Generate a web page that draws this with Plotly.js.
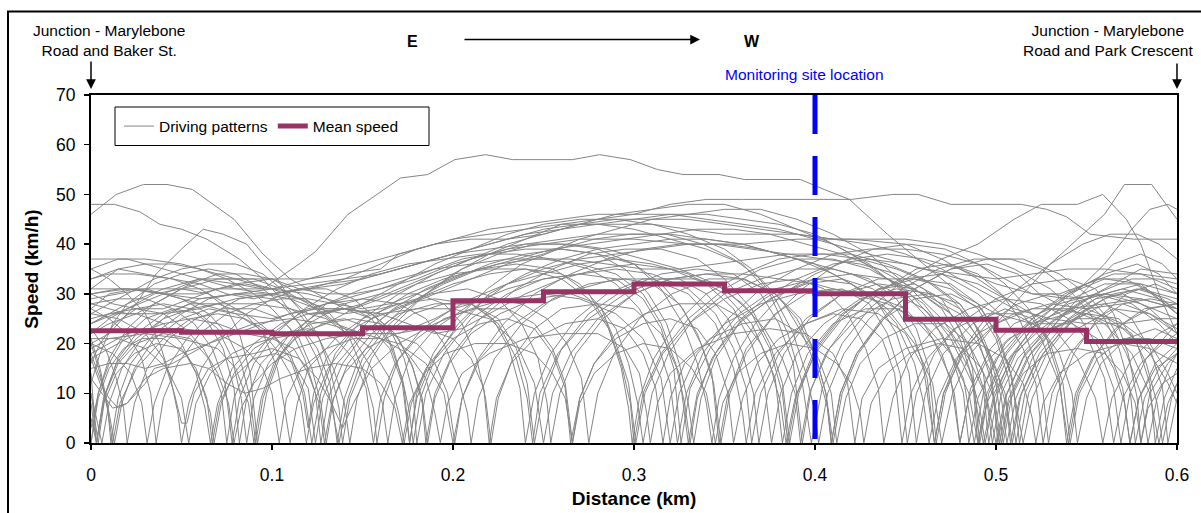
<!DOCTYPE html>
<html>
<head>
<meta charset="utf-8">
<script src="https://cdn.plot.ly/plotly-3.0.1.min.js"></script>
<style>
  html, body { margin: 0; padding: 0; background: #ffffff; }
  #chart { width: 1201px; height: 513px; }
</style>
</head>
<body>
<div id="chart"></div>
<script>
// Speed profiles along Marylebone Road, one run per array: pairs of [distance (km), speed (km/h)]
const run01 = [0,24, 0.02,28, 0.04,31, 0.06,33, 0.08,32, 0.095,31, 0.103,33, 0.115,36, 0.124,38.5, 0.142,46, 0.156,49.5, 0.171,53.3, 0.186,54, 0.201,57, 0.218,58, 0.233,57, 0.266,57, 0.281,58, 0.298,57, 0.313,55, 0.327,54, 0.347,54, 0.361,53, 0.392,53, 0.405,51, 0.419,49, 0.44,42, 0.46,36, 0.48,30, 0.5,26, 0.52,24, 0.54,26, 0.56,30, 0.58,32, 0.6,30];
const run02 = [0,46, 0.014,50, 0.029,52, 0.042,52, 0.056,51, 0.079,45, 0.095,38, 0.11,33, 0.125,30, 0.14,27, 0.155,25, 0.17,27, 0.19,30, 0.21,33, 0.23,36, 0.25,38, 0.27,41, 0.29,43, 0.31,45, 0.33,46, 0.35,47, 0.37,47, 0.39,45, 0.41,42, 0.43,38, 0.45,32, 0.47,25, 0.485,17, 0.495,9, 0.5,0, 0.505,9, 0.515,17, 0.53,24, 0.55,29, 0.57,31, 0.59,29, 0.6,27];
const run03 = [0,48, 0.013,48, 0.027,46.5, 0.038,44, 0.05,43, 0.064,41, 0.073,39, 0.082,37, 0.095,33, 0.105,29, 0.115,24, 0.125,17, 0.132,9, 0.137,0, 0.142,9, 0.15,17, 0.165,24, 0.185,30, 0.2,34, 0.22,38, 0.24,41, 0.26,44, 0.28,45, 0.3,46, 0.32,48, 0.34,49, 0.36,49, 0.38,49, 0.4,49, 0.42,49, 0.443,50, 0.457,50, 0.475,48, 0.514,48, 0.528,47, 0.539,45.5, 0.552,42, 0.576,41, 0.6,41];
const run04 = [0,20, 0.01,22, 0.025,28, 0.036,34, 0.05,39, 0.062,43, 0.073,42, 0.086,40, 0.095,36, 0.103,33, 0.11,29, 0.12,26, 0.13,26, 0.15,28, 0.17,31, 0.19,34, 0.21,37, 0.23,40, 0.25,42, 0.27,44, 0.29,46, 0.31,47, 0.33,48, 0.35,48, 0.37,46, 0.39,43, 0.41,40, 0.43,36, 0.45,30, 0.47,22, 0.482,13, 0.488,0, 0.494,12, 0.505,20, 0.52,25, 0.54,30, 0.56,33, 0.58,32, 0.6,26];
const run05 = [0,30, 0.02,31, 0.04,30, 0.06,28, 0.08,26, 0.1,25, 0.12,27, 0.14,29, 0.16,31, 0.18,33, 0.2,36, 0.22,38, 0.24,40, 0.26,41, 0.28,42, 0.3,42, 0.32,42, 0.34,41, 0.36,40, 0.38,38, 0.4,36, 0.42,32, 0.44,27, 0.455,20, 0.465,12, 0.47,0, 0.476,10, 0.486,18, 0.5,24, 0.515,30, 0.53,36, 0.545,41, 0.56,46, 0.571,52, 0.586,52, 0.6,45];
const run06 = [0,35, 0.015,37, 0.03,37, 0.05,36, 0.07,34, 0.09,32, 0.1,31, 0.12,33, 0.14,35, 0.16,37, 0.18,39, 0.2,41, 0.22,42, 0.24,43, 0.26,44, 0.28,44, 0.3,43, 0.32,41, 0.34,39, 0.36,36, 0.375,30, 0.385,22, 0.393,12, 0.398,0, 0.404,11, 0.415,20, 0.43,27, 0.45,33, 0.47,37, 0.49,40, 0.51,45, 0.525,48, 0.545,48, 0.559,50, 0.572,45, 0.58,40, 0.59,30, 0.6,22];
const run07 = [0,31, 0.015,35, 0.03,34, 0.045,33, 0.06,31, 0.075,28, 0.09,25, 0.1,22, 0.11,18, 0.118,10, 0.122,0, 0.127,10, 0.135,18, 0.15,25, 0.17,30, 0.19,34, 0.21,37, 0.23,39, 0.25,40, 0.27,41, 0.3,41, 0.33,40, 0.36,40, 0.39,41, 0.42,41, 0.45,40, 0.47,37, 0.49,33, 0.51,28, 0.525,21, 0.535,12, 0.54,0, 0.545,10, 0.555,18, 0.57,24, 0.585,27, 0.6,28];
const run08 = [0,27, 0.01,30, 0.025,31, 0.04,30, 0.06,29, 0.08,30, 0.1,31, 0.12,32, 0.14,33, 0.16,34, 0.18,36, 0.2,38, 0.22,40, 0.24,42, 0.26,43, 0.28,44, 0.3,45, 0.32,46, 0.34,46, 0.36,45, 0.38,44, 0.4,42, 0.42,38, 0.44,33, 0.46,28, 0.475,21, 0.487,12, 0.493,0, 0.499,10, 0.51,18, 0.525,23, 0.545,28, 0.565,32, 0.58,35, 0.6,34];
const run09 = [0,24, 0.02,27, 0.04,30, 0.06,33, 0.08,33, 0.1,33, 0.115,30, 0.125,27, 0.14,23, 0.155,19, 0.165,13, 0.17,6, 0.173,0, 0.177,8, 0.185,15, 0.2,22, 0.215,28, 0.23,32, 0.25,35, 0.27,37, 0.29,38, 0.31,39, 0.33,40, 0.35,40, 0.37,39, 0.39,37, 0.41,34, 0.43,30, 0.445,24, 0.455,16, 0.46,8, 0.463,0, 0.468,9, 0.478,17, 0.49,22, 0.51,26, 0.53,28, 0.55,27, 0.57,24, 0.585,20, 0.595,14, 0.6,10];
const run10 = [0,0, 0.004,10, 0.01,17, 0.02,23, 0.035,28, 0.05,31, 0.07,33, 0.09,33, 0.105,31, 0.12,28, 0.135,24, 0.15,22, 0.17,22, 0.19,25, 0.21,29, 0.23,32, 0.25,34, 0.27,36, 0.29,37, 0.31,36, 0.33,34, 0.35,30, 0.365,24, 0.375,16, 0.381,8, 0.384,0, 0.389,9, 0.4,18, 0.415,25, 0.43,30, 0.45,33, 0.47,34, 0.49,32, 0.51,28, 0.53,24, 0.545,17, 0.555,9, 0.559,0, 0.564,9, 0.575,17, 0.59,22, 0.6,24];
const run11 = [0,20, 0.005,14, 0.009,7, 0.012,0, 0.016,8, 0.025,15, 0.04,21, 0.055,25, 0.07,26, 0.085,25, 0.1,22, 0.11,17, 0.117,10, 0.12,3, 0.123,10, 0.13,17, 0.145,23, 0.16,26, 0.18,27, 0.2,27, 0.22,25, 0.235,20, 0.245,12, 0.25,0, 0.255,10, 0.265,18, 0.28,25, 0.3,30, 0.32,33, 0.34,34, 0.36,34, 0.38,33, 0.4,32, 0.42,30, 0.44,28, 0.46,24, 0.475,18, 0.485,10, 0.49,0, 0.495,8, 0.505,16, 0.52,23, 0.54,28, 0.56,30, 0.58,28, 0.6,25];
const run12 = [0,26, 0.015,25, 0.03,22, 0.04,17, 0.046,10, 0.05,4, 0.053,4, 0.057,10, 0.065,15, 0.075,17, 0.09,18, 0.1,19, 0.115,17, 0.125,13, 0.133,8, 0.139,3, 0.145,8, 0.155,15, 0.17,20, 0.19,24, 0.21,27, 0.23,29, 0.25,30, 0.27,29, 0.29,26, 0.305,21, 0.315,13, 0.32,0, 0.325,10, 0.335,18, 0.35,24, 0.37,28, 0.39,30, 0.41,31, 0.43,30, 0.45,27, 0.465,21, 0.475,13, 0.48,0, 0.486,11, 0.497,19, 0.51,24, 0.53,27, 0.55,26, 0.57,23, 0.585,18, 0.595,12, 0.6,8];
const run13 = [0,17, 0.005,12, 0.01,9, 0.015,7, 0.02,8, 0.03,12, 0.035,15, 0.045,16, 0.06,19, 0.075,22, 0.09,24, 0.11,25, 0.13,24, 0.15,22, 0.17,20, 0.185,16, 0.195,10, 0.2,0, 0.205,9, 0.215,17, 0.23,23, 0.25,28, 0.27,31, 0.29,33, 0.31,33, 0.33,30, 0.345,24, 0.355,15, 0.36,6, 0.362,0, 0.367,10, 0.378,18, 0.395,24, 0.415,27, 0.435,26, 0.45,22, 0.46,15, 0.466,0, 0.471,10, 0.482,18, 0.5,24, 0.52,27, 0.54,27, 0.56,24, 0.575,18, 0.585,10, 0.59,0, 0.595,8, 0.6,12];
const run14 = [0,10, 0.004,0, 0.008,10, 0.015,17, 0.025,22, 0.04,26, 0.055,28, 0.07,28, 0.085,26, 0.095,22, 0.103,15, 0.107,7, 0.11,0, 0.114,8, 0.12,15, 0.135,21, 0.15,25, 0.17,28, 0.19,29, 0.21,28, 0.225,24, 0.235,17, 0.241,9, 0.244,0, 0.248,10, 0.258,18, 0.275,25, 0.295,30, 0.315,33, 0.335,33, 0.35,31, 0.365,26, 0.375,19, 0.382,10, 0.385,0, 0.39,10, 0.4,19, 0.415,26, 0.435,31, 0.455,33, 0.475,32, 0.49,28, 0.5,22, 0.508,14, 0.512,6, 0.515,0, 0.52,9, 0.53,17, 0.545,23, 0.565,27, 0.585,26, 0.6,22];
const run15 = [0,22, 0.01,25, 0.02,27, 0.035,30, 0.05,31, 0.065,30, 0.075,27, 0.082,22, 0.088,14, 0.092,0, 0.097,10, 0.105,18, 0.12,24, 0.14,28, 0.16,30, 0.18,30, 0.195,28, 0.205,24, 0.213,17, 0.218,9, 0.221,0, 0.225,9, 0.233,17, 0.245,23, 0.26,27, 0.28,28, 0.3,27, 0.315,22, 0.325,14, 0.33,0, 0.335,10, 0.345,18, 0.36,25, 0.38,30, 0.4,33, 0.42,34, 0.44,33, 0.46,30, 0.48,26, 0.495,19, 0.505,10, 0.509,0, 0.514,10, 0.524,18, 0.54,25, 0.555,29, 0.57,30, 0.585,27, 0.6,22];
const run16 = [0,5, 0.003,0, 0.007,9, 0.015,16, 0.025,20, 0.04,22, 0.055,21, 0.065,17, 0.072,10, 0.075,0, 0.079,9, 0.087,16, 0.1,22, 0.115,26, 0.13,28, 0.15,29, 0.17,28, 0.185,25, 0.195,20, 0.203,13, 0.208,6, 0.21,0, 0.214,9, 0.223,17, 0.238,24, 0.255,29, 0.275,32, 0.295,33, 0.31,32, 0.325,28, 0.335,22, 0.343,14, 0.347,0, 0.352,10, 0.362,19, 0.378,26, 0.395,30, 0.415,31, 0.43,28, 0.44,22, 0.447,14, 0.451,0, 0.456,10, 0.466,18, 0.48,24, 0.5,29, 0.52,32, 0.54,33, 0.555,31, 0.565,26, 0.573,18, 0.578,9, 0.58,0, 0.585,10, 0.595,16, 0.6,18];
const run17 = [0,14, 0.003,0, 0.007,9, 0.014,16, 0.025,21, 0.04,25, 0.055,27, 0.07,28, 0.09,28, 0.11,27, 0.13,25, 0.145,21, 0.155,15, 0.161,8, 0.164,0, 0.168,9, 0.176,17, 0.19,23, 0.21,28, 0.23,31, 0.25,33, 0.27,34, 0.29,35, 0.31,34, 0.33,31, 0.345,26, 0.355,19, 0.362,11, 0.365,0, 0.37,10, 0.38,18, 0.395,25, 0.415,30, 0.435,33, 0.455,33, 0.475,31, 0.49,27, 0.5,21, 0.507,13, 0.511,0, 0.516,10, 0.526,18, 0.54,24, 0.56,28, 0.58,29, 0.6,27];
const run18 = [0,30, 0.015,31, 0.03,31, 0.05,29, 0.065,26, 0.075,22, 0.083,16, 0.088,9, 0.091,0, 0.095,9, 0.103,17, 0.115,23, 0.13,28, 0.15,31, 0.17,33, 0.19,35, 0.21,36, 0.23,37, 0.25,37, 0.27,36, 0.29,34, 0.305,30, 0.315,24, 0.323,16, 0.328,8, 0.331,0, 0.335,9, 0.343,17, 0.356,24, 0.372,29, 0.39,33, 0.41,36, 0.43,37, 0.45,36, 0.47,34, 0.49,30, 0.505,25, 0.515,19, 0.522,12, 0.526,0, 0.531,10, 0.541,18, 0.555,24, 0.57,28, 0.585,29, 0.6,28];
const run19 = [0,18, 0.01,20, 0.02,22, 0.03,23, 0.05,23, 0.07,22, 0.085,19, 0.095,15, 0.1,10, 0.104,0, 0.108,9, 0.116,15, 0.13,19, 0.145,21, 0.16,21, 0.175,18, 0.185,13, 0.19,6, 0.193,0, 0.197,8, 0.205,14, 0.22,18, 0.24,21, 0.26,22, 0.28,22, 0.295,19, 0.303,14, 0.307,6, 0.309,0, 0.313,8, 0.32,14, 0.335,19, 0.355,22, 0.375,23, 0.395,22, 0.41,18, 0.418,12, 0.422,0, 0.426,9, 0.435,15, 0.45,19, 0.47,21, 0.49,20, 0.505,17, 0.515,12, 0.52,5, 0.522,0, 0.526,8, 0.535,14, 0.55,18, 0.57,20, 0.585,19, 0.6,16];
const run20 = [0,12, 0.005,18, 0.012,24, 0.02,28, 0.035,32, 0.05,34, 0.065,35, 0.08,34, 0.095,31, 0.105,28, 0.115,24, 0.125,19, 0.132,12, 0.136,0, 0.14,9, 0.148,17, 0.16,23, 0.175,28, 0.195,32, 0.215,35, 0.235,37, 0.255,39, 0.275,40, 0.295,41, 0.315,42, 0.335,43, 0.355,43, 0.375,42, 0.395,40, 0.415,38, 0.435,35, 0.455,31, 0.475,26, 0.49,20, 0.5,12, 0.504,0, 0.509,10, 0.519,18, 0.535,25, 0.555,30, 0.575,33, 0.59,33, 0.6,32];
const run21 = [0,28, 0.01,27, 0.02,26, 0.04,26, 0.06,27, 0.08,29, 0.1,30, 0.12,31, 0.14,32, 0.16,34, 0.18,36, 0.2,38, 0.22,39, 0.24,40, 0.26,40, 0.28,39, 0.3,36, 0.315,31, 0.327,24, 0.335,16, 0.34,8, 0.343,0, 0.347,9, 0.355,17, 0.367,24, 0.382,30, 0.4,34, 0.42,37, 0.44,38, 0.46,37, 0.48,35, 0.5,32, 0.52,30, 0.54,29, 0.56,30, 0.58,29, 0.6,27];
const run22 = [0,3, 0.004,10, 0.01,16, 0.018,21, 0.03,25, 0.045,27, 0.06,26, 0.07,23, 0.078,17, 0.083,9, 0.086,0, 0.09,9, 0.098,16, 0.11,22, 0.125,26, 0.14,27, 0.155,26, 0.165,23, 0.173,17, 0.178,10, 0.18,0, 0.185,10, 0.195,18, 0.21,25, 0.23,30, 0.25,33, 0.27,34, 0.29,33, 0.305,29, 0.315,23, 0.322,15, 0.326,0, 0.331,11, 0.342,19, 0.358,26, 0.378,31, 0.4,33, 0.42,32, 0.435,28, 0.445,22, 0.452,14, 0.456,0, 0.461,10, 0.471,18, 0.487,24, 0.505,27, 0.52,25, 0.53,20, 0.537,12, 0.541,0, 0.546,10, 0.556,17, 0.57,21, 0.585,21, 0.6,19];
const run23 = [0,21, 0.005,15, 0.009,8, 0.011,0, 0.015,9, 0.022,16, 0.035,22, 0.05,26, 0.065,29, 0.08,30, 0.095,30, 0.11,29, 0.125,27, 0.14,26, 0.16,27, 0.18,29, 0.2,32, 0.22,34, 0.24,35, 0.26,34, 0.275,30, 0.285,24, 0.293,16, 0.298,8, 0.3,0, 0.305,10, 0.315,18, 0.33,25, 0.35,31, 0.37,35, 0.39,37, 0.41,37, 0.43,35, 0.45,31, 0.465,25, 0.475,18, 0.482,10, 0.485,0, 0.49,9, 0.5,17, 0.515,23, 0.535,28, 0.555,30, 0.575,28, 0.59,24, 0.6,20];
const run24 = [0,25, 0.01,26, 0.025,26, 0.04,24, 0.05,20, 0.058,14, 0.063,7, 0.066,0, 0.07,8, 0.078,15, 0.09,20, 0.105,24, 0.12,26, 0.14,27, 0.16,26, 0.175,24, 0.19,22, 0.205,23, 0.22,26, 0.24,30, 0.26,33, 0.28,35, 0.3,36, 0.32,35, 0.34,32, 0.355,27, 0.365,20, 0.372,12, 0.376,0, 0.381,10, 0.39,18, 0.405,24, 0.425,29, 0.445,31, 0.465,30, 0.48,27, 0.49,21, 0.497,13, 0.5,5, 0.502,0, 0.507,9, 0.517,17, 0.532,23, 0.55,27, 0.57,28, 0.585,26, 0.6,23];
const run25 = [0,16, 0.005,20, 0.013,24, 0.025,27, 0.04,28, 0.055,27, 0.065,24, 0.073,19, 0.079,11, 0.082,0, 0.086,9, 0.094,16, 0.107,21, 0.122,24, 0.14,25, 0.155,23, 0.165,19, 0.172,12, 0.176,0, 0.18,9, 0.188,16, 0.2,21, 0.215,24, 0.23,25, 0.245,23, 0.255,18, 0.262,11, 0.265,0, 0.27,9, 0.278,16, 0.29,21, 0.305,24, 0.32,25, 0.335,23, 0.345,18, 0.352,10, 0.355,0, 0.36,9, 0.368,16, 0.38,21, 0.395,24, 0.41,26, 0.425,25, 0.437,21, 0.444,14, 0.448,0, 0.453,10, 0.462,17, 0.477,23, 0.495,26, 0.51,26, 0.525,23, 0.535,18, 0.542,10, 0.545,0, 0.55,9, 0.558,16, 0.572,21, 0.588,23, 0.6,21];
const run26 = [0,33, 0.01,34, 0.025,34, 0.045,33, 0.06,32, 0.075,30, 0.09,29, 0.1,30, 0.115,31, 0.13,32, 0.15,33, 0.17,35, 0.19,37, 0.21,39, 0.23,41, 0.25,43, 0.27,44, 0.29,44, 0.31,44, 0.33,43, 0.35,42, 0.37,42, 0.39,42, 0.41,41, 0.43,40, 0.45,38, 0.47,35, 0.49,31, 0.51,27, 0.53,25, 0.55,24, 0.57,24, 0.59,25, 0.6,25];
const run27 = [0,19, 0.01,21, 0.03,22, 0.05,21, 0.07,19, 0.08,15, 0.087,8, 0.09,0, 0.094,9, 0.101,16, 0.113,21, 0.128,24, 0.145,25, 0.16,24, 0.17,21, 0.178,15, 0.183,8, 0.185,0, 0.19,10, 0.2,18, 0.215,25, 0.235,31, 0.255,35, 0.275,38, 0.295,39, 0.315,39, 0.335,37, 0.35,33, 0.365,27, 0.375,20, 0.382,12, 0.386,0, 0.391,10, 0.401,19, 0.416,26, 0.435,31, 0.455,32, 0.47,29, 0.48,23, 0.487,15, 0.491,0, 0.496,10, 0.506,18, 0.52,24, 0.54,27, 0.56,28, 0.575,25, 0.585,19, 0.592,11, 0.595,0, 0.6,9];
const run28 = [0,23, 0.008,19, 0.014,13, 0.018,7, 0.02,0, 0.024,8, 0.031,15, 0.043,21, 0.058,25, 0.073,27, 0.09,27, 0.105,25, 0.115,21, 0.122,15, 0.127,8, 0.13,0, 0.134,9, 0.142,16, 0.155,22, 0.17,26, 0.19,28, 0.21,28, 0.225,25, 0.235,19, 0.241,12, 0.245,0, 0.25,10, 0.26,19, 0.275,26, 0.295,31, 0.315,34, 0.335,35, 0.355,34, 0.37,30, 0.38,24, 0.388,16, 0.393,0, 0.398,11, 0.408,19, 0.423,25, 0.443,29, 0.463,30, 0.48,28, 0.49,23, 0.497,16, 0.501,0, 0.506,10, 0.516,18, 0.53,23, 0.55,26, 0.568,25, 0.578,20, 0.585,12, 0.588,0, 0.593,9, 0.6,15];
const run29 = [0,8, 0.003,0, 0.007,8, 0.014,14, 0.024,18, 0.036,20, 0.05,19, 0.058,15, 0.064,9, 0.067,0, 0.071,8, 0.078,13, 0.09,17, 0.102,18, 0.112,16, 0.12,11, 0.124,0, 0.128,9, 0.136,16, 0.15,22, 0.168,27, 0.188,30, 0.208,31, 0.225,29, 0.238,24, 0.247,17, 0.252,8, 0.254,0, 0.259,10, 0.268,18, 0.283,25, 0.3,30, 0.32,33, 0.34,34, 0.36,33, 0.378,30, 0.392,25, 0.4,18, 0.406,10, 0.409,0, 0.414,10, 0.423,18, 0.438,25, 0.455,29, 0.475,30, 0.492,27, 0.502,21, 0.509,13, 0.513,0, 0.518,10, 0.528,18, 0.543,25, 0.56,29, 0.578,31, 0.595,29, 0.6,28];
const run30 = [0,37, 0.02,37, 0.04,35, 0.06,33, 0.08,31, 0.1,30, 0.12,31, 0.14,33, 0.16,36, 0.18,39, 0.2,41, 0.22,43, 0.24,44, 0.26,45, 0.28,46, 0.3,46, 0.32,46, 0.34,45, 0.36,44, 0.38,43, 0.4,41, 0.42,39, 0.44,37, 0.46,35, 0.48,34, 0.5,33, 0.52,34, 0.54,35, 0.56,35, 0.58,34, 0.6,33];
const run31 = [0,29, 0.015,30, 0.03,31, 0.05,31, 0.07,31, 0.09,31, 0.1,31, 0.12,30, 0.14,28, 0.155,25, 0.165,20, 0.172,13, 0.176,6, 0.178,0, 0.182,9, 0.19,17, 0.203,24, 0.22,30, 0.24,34, 0.26,37, 0.28,39, 0.3,40, 0.32,41, 0.34,41, 0.36,40, 0.38,38, 0.4,36, 0.42,34, 0.44,31, 0.46,27, 0.475,22, 0.485,15, 0.491,7, 0.494,0, 0.499,9, 0.508,17, 0.522,24, 0.54,30, 0.56,34, 0.578,36, 0.59,34, 0.6,30];
const run32 = [0,18, 0.006,12, 0.01,6, 0.013,0, 0.017,8, 0.024,15, 0.035,21, 0.05,25, 0.065,27, 0.08,26, 0.093,23, 0.102,19, 0.11,14, 0.116,8, 0.119,0, 0.123,8, 0.131,15, 0.143,21, 0.158,26, 0.175,30, 0.195,33, 0.215,35, 0.235,36, 0.255,35, 0.27,32, 0.282,27, 0.29,20, 0.297,12, 0.301,0, 0.306,10, 0.316,18, 0.33,24, 0.35,29, 0.37,32, 0.39,33, 0.405,31, 0.418,26, 0.428,19, 0.435,11, 0.438,0, 0.443,9, 0.452,17, 0.466,23, 0.485,27, 0.505,29, 0.525,28, 0.54,25, 0.552,20, 0.56,13, 0.565,0, 0.57,9, 0.58,16, 0.592,20, 0.6,22];
const run33 = [0,26, 0.01,28, 0.02,30, 0.035,33, 0.05,35, 0.065,36, 0.08,36, 0.095,34, 0.105,31, 0.115,27, 0.125,22, 0.132,15, 0.137,7, 0.139,0, 0.143,9, 0.151,16, 0.163,22, 0.178,26, 0.195,28, 0.21,28, 0.222,25, 0.231,19, 0.237,11, 0.24,0, 0.245,10, 0.254,18, 0.268,25, 0.285,30, 0.305,33, 0.325,33, 0.34,30, 0.352,25, 0.36,18, 0.366,10, 0.369,0, 0.374,10, 0.383,18, 0.397,25, 0.415,30, 0.435,32, 0.455,31, 0.47,27, 0.48,21, 0.487,13, 0.49,0, 0.495,10, 0.505,18, 0.52,25, 0.538,30, 0.556,33, 0.572,33, 0.586,30, 0.6,26];
const run34 = [0,21, 0.015,21, 0.03,19, 0.042,15, 0.05,9, 0.054,0, 0.058,8, 0.066,14, 0.078,18, 0.09,20, 0.1,21, 0.112,19, 0.12,14, 0.126,8, 0.129,0, 0.133,8, 0.14,14, 0.152,19, 0.168,22, 0.185,23, 0.2,21, 0.21,17, 0.217,11, 0.22,0, 0.224,9, 0.232,16, 0.245,21, 0.262,24, 0.28,25, 0.295,23, 0.305,18, 0.312,11, 0.316,0, 0.32,9, 0.328,16, 0.342,21, 0.36,24, 0.378,25, 0.392,22, 0.402,17, 0.409,10, 0.412,0, 0.417,9, 0.425,16, 0.438,21, 0.455,24, 0.472,24, 0.485,20, 0.493,14, 0.498,0, 0.503,10, 0.512,17, 0.525,22, 0.545,25, 0.562,25, 0.575,22, 0.583,16, 0.589,8, 0.592,0, 0.597,9, 0.6,12];
const run35 = [0,27, 0.01,25, 0.02,22, 0.028,17, 0.033,10, 0.036,0, 0.04,9, 0.048,16, 0.06,22, 0.075,26, 0.09,28, 0.105,29, 0.12,29, 0.135,28, 0.15,27, 0.165,28, 0.18,30, 0.2,33, 0.22,36, 0.24,38, 0.26,39, 0.28,38, 0.295,35, 0.308,30, 0.318,24, 0.325,16, 0.33,8, 0.333,0, 0.337,9, 0.345,17, 0.358,24, 0.375,29, 0.395,32, 0.415,33, 0.432,31, 0.445,27, 0.455,21, 0.462,13, 0.466,0, 0.471,10, 0.48,18, 0.494,25, 0.512,31, 0.53,36, 0.548,40, 0.563,42, 0.578,42, 0.59,40, 0.6,37];
const run36 = [0,15, 0.01,16, 0.02,16, 0.03,15, 0.04,16, 0.05,18, 0.065,20, 0.08,22, 0.095,24, 0.11,26, 0.125,27, 0.14,27, 0.155,26, 0.168,22, 0.177,16, 0.183,9, 0.186,0, 0.19,9, 0.198,16, 0.21,22, 0.226,26, 0.245,29, 0.265,30, 0.28,28, 0.29,23, 0.297,16, 0.302,8, 0.305,0, 0.31,10, 0.319,18, 0.333,25, 0.35,30, 0.37,33, 0.39,35, 0.41,35, 0.43,33, 0.445,29, 0.456,23, 0.463,15, 0.467,0, 0.472,10, 0.481,18, 0.495,24, 0.512,28, 0.53,30, 0.548,29, 0.56,25, 0.568,19, 0.574,11, 0.577,0, 0.582,9, 0.59,15, 0.6,19];
const run37 = [0,30, 0.012,28, 0.025,27, 0.04,27, 0.055,29, 0.07,31, 0.085,32, 0.1,31, 0.115,29, 0.13,27, 0.145,27, 0.16,29, 0.18,32, 0.2,34, 0.22,35, 0.24,35, 0.26,33, 0.275,29, 0.286,23, 0.293,15, 0.297,7, 0.299,0, 0.303,9, 0.311,17, 0.323,24, 0.34,30, 0.36,34, 0.38,37, 0.4,38, 0.42,38, 0.44,36, 0.46,33, 0.475,29, 0.488,24, 0.497,17, 0.503,9, 0.506,0, 0.511,9, 0.52,17, 0.533,24, 0.55,31, 0.565,36, 0.58,38, 0.592,36, 0.6,33];
const run38 = [0,0, 0.004,9, 0.01,15, 0.018,19, 0.028,21, 0.04,21, 0.052,18, 0.06,13, 0.066,6, 0.068,0, 0.072,8, 0.079,14, 0.09,19, 0.104,22, 0.12,23, 0.135,21, 0.145,17, 0.152,11, 0.156,0, 0.16,9, 0.168,16, 0.18,21, 0.195,25, 0.212,27, 0.23,27, 0.245,24, 0.255,19, 0.262,12, 0.266,0, 0.27,9, 0.278,16, 0.29,22, 0.306,26, 0.325,28, 0.345,28, 0.36,25, 0.37,20, 0.378,13, 0.382,0, 0.387,10, 0.396,18, 0.41,24, 0.428,27, 0.446,27, 0.46,24, 0.47,18, 0.477,10, 0.48,0, 0.485,9, 0.494,16, 0.507,21, 0.524,24, 0.542,24, 0.556,21, 0.565,15, 0.571,8, 0.574,0, 0.579,9, 0.588,15, 0.6,18];
const run39 = [0,24, 0.01,26, 0.025,27, 0.04,26, 0.052,23, 0.062,19, 0.07,14, 0.076,8, 0.079,0, 0.083,7, 0.09,12, 0.1,16, 0.113,19, 0.13,21, 0.148,22, 0.165,22, 0.18,20, 0.19,16, 0.197,10, 0.201,0, 0.205,9, 0.214,17, 0.228,24, 0.245,30, 0.265,34, 0.285,37, 0.305,39, 0.325,40, 0.345,40, 0.365,39, 0.385,38, 0.405,37, 0.425,36, 0.445,34, 0.46,31, 0.475,26, 0.486,19, 0.493,11, 0.496,0, 0.501,10, 0.511,18, 0.525,24, 0.542,29, 0.56,32, 0.578,32, 0.592,29, 0.6,26];
const run40 = [0,33, 0.015,35, 0.03,36, 0.045,36, 0.06,35, 0.075,33, 0.09,30, 0.1,27, 0.11,23, 0.118,17, 0.124,10, 0.127,0, 0.131,9, 0.139,16, 0.151,22, 0.167,27, 0.185,31, 0.205,34, 0.225,36, 0.245,37, 0.265,37, 0.285,36, 0.305,35, 0.325,35, 0.345,36, 0.365,37, 0.385,38, 0.405,38, 0.425,37, 0.445,35, 0.465,32, 0.48,28, 0.492,22, 0.5,15, 0.506,7, 0.508,0, 0.513,9, 0.522,16, 0.535,22, 0.55,27, 0.565,30, 0.58,31, 0.6,29];
const run41 = [0,13, 0.006,10, 0.012,7, 0.02,8, 0.03,13, 0.04,15, 0.055,16, 0.065,15, 0.075,12, 0.085,10, 0.095,11, 0.105,13, 0.12,15, 0.135,16, 0.15,15, 0.16,12, 0.168,7, 0.172,0, 0.176,8, 0.184,14, 0.196,18, 0.212,20, 0.23,20, 0.245,18, 0.255,14, 0.262,9, 0.266,0, 0.27,8, 0.278,14, 0.29,18, 0.305,20, 0.32,19, 0.332,15, 0.34,10, 0.345,0, 0.349,8, 0.357,14, 0.37,18, 0.385,20, 0.4,19, 0.412,16, 0.42,12, 0.425,6, 0.427,0, 0.431,8, 0.44,14, 0.452,18, 0.468,20, 0.482,19, 0.492,15, 0.499,9, 0.503,0, 0.507,8, 0.515,14, 0.528,18, 0.545,19, 0.56,18, 0.57,14, 0.577,8, 0.58,0, 0.584,7, 0.592,12, 0.6,14];
const run42 = [0,31, 0.02,31, 0.04,30, 0.06,30, 0.08,32, 0.1,33, 0.12,33, 0.14,34, 0.16,35, 0.17,38, 0.19,40, 0.21,41, 0.23,41, 0.25,42, 0.27,44, 0.29,45, 0.31,45, 0.33,45, 0.35,44, 0.37,43, 0.39,42, 0.41,41, 0.43,41, 0.45,41, 0.47,40, 0.49,38, 0.51,35, 0.53,31, 0.545,26, 0.557,19, 0.565,11, 0.569,0, 0.574,10, 0.583,17, 0.595,22, 0.6,24];
const run43 = [0,22, 0.01,24, 0.025,26, 0.04,29, 0.055,32, 0.07,34, 0.085,34, 0.1,33, 0.115,31, 0.13,30, 0.145,30, 0.16,31, 0.175,33, 0.19,36, 0.21,39, 0.23,42, 0.25,44, 0.27,45, 0.29,45, 0.31,44, 0.33,42, 0.35,39, 0.365,35, 0.378,29, 0.388,22, 0.395,14, 0.4,6, 0.402,0, 0.407,10, 0.416,18, 0.43,25, 0.448,31, 0.468,35, 0.488,37, 0.508,37, 0.525,35, 0.54,31, 0.552,26, 0.562,19, 0.57,11, 0.574,0, 0.579,9, 0.588,16, 0.6,20];
const run44 = [0,17, 0.01,19, 0.025,22, 0.04,24, 0.055,25, 0.07,24, 0.085,22, 0.1,21, 0.115,22, 0.13,24, 0.145,27, 0.16,30, 0.175,33, 0.19,35, 0.205,37, 0.22,38, 0.24,39, 0.26,39, 0.28,38, 0.3,36, 0.315,32, 0.327,27, 0.337,20, 0.344,12, 0.348,0, 0.353,10, 0.362,18, 0.376,25, 0.393,31, 0.412,36, 0.432,39, 0.452,40, 0.472,39, 0.49,36, 0.505,32, 0.518,27, 0.528,21, 0.535,13, 0.539,0, 0.544,10, 0.553,17, 0.566,23, 0.582,27, 0.6,28];
const run45 = [0,35, 0.01,33, 0.02,30, 0.03,26, 0.038,20, 0.044,13, 0.048,6, 0.05,0, 0.054,8, 0.061,15, 0.072,21, 0.086,26, 0.1,29, 0.115,31, 0.13,31, 0.145,29, 0.158,25, 0.167,19, 0.173,11, 0.176,0, 0.18,10, 0.189,18, 0.202,25, 0.219,31, 0.238,36, 0.258,39, 0.278,41, 0.298,42, 0.318,42, 0.338,40, 0.355,37, 0.37,33, 0.383,28, 0.393,22, 0.401,15, 0.407,7, 0.409,0, 0.414,10, 0.423,18, 0.437,25, 0.455,31, 0.475,35, 0.495,37, 0.515,37, 0.535,34, 0.55,30, 0.562,25, 0.572,18, 0.58,10, 0.584,0, 0.589,9, 0.597,16, 0.6,18];
const run46 = [0,28, 0.015,29, 0.03,29, 0.045,27, 0.057,24, 0.067,19, 0.074,12, 0.078,0, 0.082,9, 0.09,16, 0.102,22, 0.118,27, 0.136,31, 0.155,34, 0.175,36, 0.195,37, 0.215,38, 0.235,38, 0.255,37, 0.275,35, 0.29,32, 0.303,27, 0.313,20, 0.32,12, 0.324,0, 0.329,10, 0.338,18, 0.352,25, 0.37,31, 0.39,35, 0.41,38, 0.43,39, 0.45,39, 0.47,38, 0.49,36, 0.505,33, 0.52,30, 0.535,30, 0.55,32, 0.565,34, 0.58,34, 0.6,31];
const run47 = [0,20, 0.012,18, 0.022,14, 0.028,8, 0.031,0, 0.035,8, 0.042,15, 0.053,21, 0.067,26, 0.082,29, 0.1,30, 0.118,29, 0.132,26, 0.143,21, 0.151,14, 0.156,7, 0.158,0, 0.162,9, 0.17,17, 0.183,23, 0.2,27, 0.22,29, 0.238,28, 0.252,25, 0.263,20, 0.271,13, 0.275,0, 0.28,10, 0.289,18, 0.303,25, 0.321,30, 0.341,33, 0.361,33, 0.378,30, 0.39,25, 0.4,18, 0.406,10, 0.41,0, 0.415,10, 0.424,18, 0.438,25, 0.455,31, 0.475,35, 0.495,36, 0.512,34, 0.524,30, 0.534,28, 0.546,31, 0.56,36, 0.575,43, 0.585,47, 0.595,48, 0.6,47];
const run48 = [0,10, 0.003,5, 0.006,0, 0.01,8, 0.017,15, 0.028,21, 0.043,26, 0.06,29, 0.08,30, 0.1,29, 0.115,26, 0.126,21, 0.134,15, 0.14,8, 0.143,0, 0.147,9, 0.155,17, 0.168,24, 0.185,30, 0.205,35, 0.225,38, 0.245,40, 0.265,40, 0.285,39, 0.305,37, 0.325,35, 0.345,32, 0.36,28, 0.372,23, 0.382,17, 0.389,10, 0.392,0, 0.397,10, 0.406,18, 0.42,25, 0.438,31, 0.456,35, 0.474,36, 0.49,34, 0.503,30, 0.513,25, 0.52,18, 0.526,10, 0.529,0, 0.534,10, 0.543,18, 0.556,25, 0.572,30, 0.588,32, 0.6,30];

const runs = [run01, run02, run03, run04, run05, run06, run07, run08, run09, run10,
              run11, run12, run13, run14, run15, run16, run17, run18, run19, run20,
              run21, run22, run23, run24, run25, run26, run27, run28, run29, run30,
              run31, run32, run33, run34, run35, run36, run37, run38, run39, run40,
              run41, run42, run43, run44, run45, run46, run47, run48];

// Mean speed over each 50 m section
const sectionEdges = [0, 0.05, 0.1, 0.15, 0.2, 0.25, 0.3, 0.35, 0.4, 0.45, 0.5, 0.55, 0.6];
const sectionMeans = [22.6, 22.3, 22.0, 23.2, 28.6, 30.4, 32.0, 30.6, 30.0, 24.9, 22.7, 20.4];

// Monitoring site position along the route (km)
const siteKm = 0.4;

const FONT = 'Arial, "Liberation Sans", Helvetica, sans-serif';

const traces = runs.map((pairs, i) => {
  const d = [], v = [];
  for (let k = 0; k < pairs.length; k += 2) { d.push(pairs[k]); v.push(pairs[k + 1]); }
  return {
    x: d, y: v, type: 'scatter', mode: 'lines',
    name: 'Driving patterns', legendgroup: 'runs', showlegend: i === 0,
    line: { color: '#858585', width: 1 }, hoverinfo: 'skip'
  };
});

traces.push({
  x: sectionEdges,
  y: sectionMeans.concat([sectionMeans[sectionMeans.length - 1]]),
  type: 'scatter', mode: 'lines', name: 'Mean speed',
  line: { color: '#993366', width: 5, shape: 'hv' }
});

// pixel helpers for placing decorations around the plot frame
const L = 91, R = 24, T = 95, B = 70, W = 1201, H = 513;
const pw = W - L - R, ph = H - T - B;
const px = (p) => (p - L) / pw;
const py = (p) => (H - B - p) / ph;

const layout = {
  width: W, height: H,
  margin: { l: L, r: R, t: T, b: B, pad: 0 },
  paper_bgcolor: '#ffffff', plot_bgcolor: '#ffffff',
  font: { family: FONT, color: '#000000' },
  showlegend: true,
  legend: {
    orientation: 'h', x: px(119), y: py(126.5), xanchor: 'left', yanchor: 'middle',
    bgcolor: 'rgba(0,0,0,0)', borderwidth: 0,
    font: { family: FONT, size: 15.5, color: '#000000' }
  },
  xaxis: {
    range: [0, 0.6], dtick: 0.1, tick0: 0,
    showgrid: false, zeroline: false,
    showline: true, linecolor: '#000000', linewidth: 2, mirror: true,
    ticks: 'outside', ticklen: 5, tickwidth: 1.5, tickcolor: '#000000',
    ticklabelstandoff: 10,
    tickfont: { family: FONT, size: 17.5, color: '#000000' },
    title: { text: 'Distance (km)', standoff: 8, font: { family: FONT, size: 19, color: '#000000', weight: 'bold' } },
    automargin: false
  },
  yaxis: {
    range: [0, 70], dtick: 10, tick0: 0,
    showgrid: false, zeroline: false,
    showline: true, linecolor: '#000000', linewidth: 2, mirror: true,
    ticks: 'outside', ticklen: 5, tickwidth: 1.5, tickcolor: '#000000',
    ticklabelstandoff: 5,
    tickfont: { family: FONT, size: 17.5, color: '#000000' },
    title: { text: 'Speed (km/h)', standoff: 12, font: { family: FONT, size: 19, color: '#000000', weight: 'bold' } },
    automargin: false
  },
  shapes: [
    // outer frame
    { type: 'rect', xref: 'paper', yref: 'paper', x0: px(8), x1: px(1204), y0: py(520), y1: py(11.5),
      line: { color: '#000000', width: 2 }, fillcolor: 'rgba(0,0,0,0)', layer: 'below' },
    // legend box
    { type: 'rect', xref: 'paper', yref: 'paper', x0: px(115), x1: px(429), y0: py(145.5), y1: py(107),
      line: { color: '#000000', width: 1 }, fillcolor: '#ffffff', layer: 'below' },
    // monitoring site marker
    { type: 'line', xref: 'x', yref: 'y', x0: siteKm, x1: siteKm, y0: 70, y1: 0,
      line: { color: '#0000ff', width: 5, dash: '39px,22px' }, layer: 'above' }
  ],
  annotations: [
    { xref: 'paper', yref: 'paper', x: px(109), y: py(40), xanchor: 'center', yanchor: 'middle',
      text: 'Junction - Marylebone<br>Road and Baker St.', showarrow: false,
      font: { family: FONT, size: 15.5, color: '#000000' } },
    { xref: 'paper', yref: 'paper', x: px(1108), y: py(40), xanchor: 'center', yanchor: 'middle',
      text: 'Junction - Marylebone<br>Road and Park Crescent', showarrow: false,
      font: { family: FONT, size: 15.5, color: '#000000' } },
    { xref: 'x', yref: 'paper', x: 0, y: py(89), text: '', showarrow: true,
      axref: 'pixel', ayref: 'pixel', ax: 0, ay: -29,
      arrowhead: 2, arrowsize: 1.3, arrowwidth: 1.5, arrowcolor: '#000000' },
    { xref: 'x', yref: 'paper', x: 0.6, y: py(89), text: '', showarrow: true,
      axref: 'pixel', ayref: 'pixel', ax: 0, ay: -27,
      arrowhead: 2, arrowsize: 1.3, arrowwidth: 1.5, arrowcolor: '#000000' },
    { xref: 'paper', yref: 'paper', x: px(412.5), y: py(41), xanchor: 'center', yanchor: 'middle',
      text: '<b>E</b>', showarrow: false, font: { family: FONT, size: 16, color: '#000000' } },
    { xref: 'paper', yref: 'paper', x: px(751.5), y: py(41), xanchor: 'center', yanchor: 'middle',
      text: '<b>W</b>', showarrow: false, font: { family: FONT, size: 16, color: '#000000' } },
    { xref: 'paper', yref: 'paper', x: px(700), y: py(39.5), text: '', showarrow: true,
      axref: 'pixel', ayref: 'pixel', ax: -237, ay: 0,
      arrowhead: 2, arrowsize: 1.3, arrowwidth: 1.5, arrowcolor: '#000000' },
    { xref: 'paper', yref: 'paper', x: px(804), y: py(74.5), xanchor: 'center', yanchor: 'middle',
      text: 'Monitoring site location', showarrow: false,
      font: { family: FONT, size: 15.5, color: '#0000ff' } }
  ]
};

Plotly.newPlot('chart', traces, layout, { displayModeBar: false, staticPlot: true });
</script>
</body>
</html>
